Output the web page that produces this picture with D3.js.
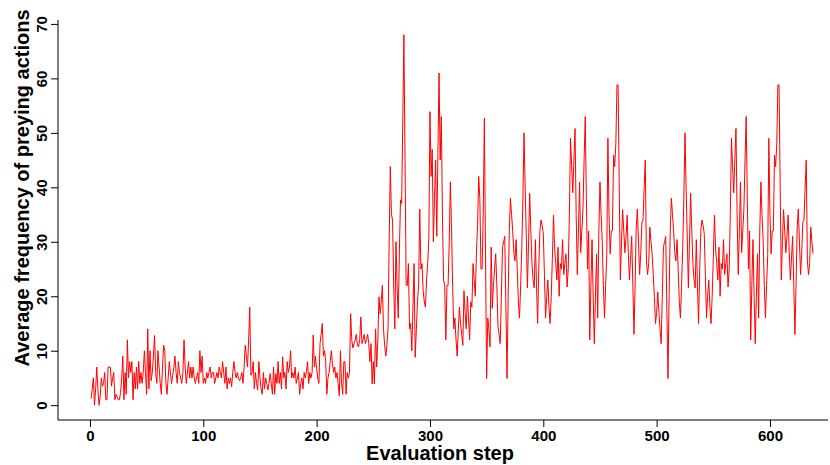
<!DOCTYPE html>
<html>
<head>
<meta charset="utf-8">
<script src="https://cdn.jsdelivr.net/npm/d3@7"></script>
<style>
  body { margin: 0; background: #fff; }
  svg text { font-family: "Liberation Sans", Arial, sans-serif; font-weight: bold; fill: #000; }
</style>
</head>
<body>
<div id="chart"></div>
<script>
// average frequency of preying actions, one value per evaluation step (1..638)
const frequency = [
  // steps 1-53
  1.2, 3, 5, 0, 3, 7, 3, 0, 1.5, 5, 3.5, 4, 6, 1, 1, 7, 7, 7, 3.5, 5,
  6, 1, 2, 1.5, 1, 1, 2.3, 5, 9, 1, 6, 2, 12, 5, 8, 6, 8, 1, 6, 3,
  7, 3, 8, 4, 6, 4, 6, 10, 6, 2, 14, 3, 10,
  // steps 54-108
  4.5, 6, 9, 12.8, 6, 4, 10, 7, 4, 2, 7, 11, 10, 4, 2, 5, 8, 6, 4, 5.5,
  7, 9, 6, 4, 8, 6, 5, 4, 6, 12, 7, 4, 6, 8, 5, 7, 5, 7, 5, 4,
  5, 6, 4, 10, 6, 9, 4, 5, 4, 6, 5, 6, 7, 5, 6,
  // steps 109-166
  6, 4, 5, 6, 5, 7, 6, 5, 8, 6, 4, 7, 3, 5, 4, 5, 3.4, 6, 8, 6,
  5, 6, 5, 4.5, 5, 6, 4, 7, 11, 9, 7, 12, 18, 5.5, 6, 8, 3, 6, 4, 2.8,
  8, 5, 3, 2, 6, 3, 5, 4, 2.8, 4, 5.8, 4, 2, 7, 2, 5.8, 4, 8,
  // steps 167-222
  4, 6, 3, 8.9, 5, 6, 3, 8, 6, 7, 10, 5, 6, 5, 7, 4, 5, 6, 2, 4,
  5, 3, 6, 5, 6.2, 8, 4, 6, 5, 6, 12.9, 7, 9, 6.7, 5, 4, 11.3, 13, 15, 9,
  10, 8, 2, 5, 6, 8, 10, 7.6, 6, 7, 5, 6, 4, 1.7, 10, 4,
  // steps 223-279
  2, 8, 8, 2, 6, 5, 6, 16.8, 12, 10.5, 11.3, 12, 13, 11, 10.7, 12, 16.2, 11.3, 12, 13,
  11.3, 12, 13, 11.3, 8, 11.3, 3.9, 8, 3.9, 14, 7, 12, 19.9, 16.8, 19, 22, 14, 11, 9, 11,
  14, 30, 43.8, 35, 34, 22, 14, 30, 22, 16, 28, 37.7, 37, 52, 68, 45, 22,
  // steps 280-335
  22, 26, 14, 15, 10, 18, 26, 8.8, 14, 19, 22, 36, 25, 26, 21, 19, 18, 23, 26, 30.6,
  53.9, 42, 47, 30, 38, 45, 31, 46, 61, 45, 53, 35, 23, 22, 12, 22, 22, 30, 41, 32.7,
  22, 14, 16, 12, 9, 14, 18, 15, 13, 11, 21, 17, 14, 20, 16, 12,
  // steps 336-392
  19, 18, 26, 23, 20, 28, 33, 42, 38, 25, 25, 35, 52.7, 28, 4.9, 16, 14, 10.7, 29, 17.8,
  22, 25, 27.8, 22, 14.5, 13, 11.3, 20, 29, 30, 31, 18, 4.9, 20, 32, 38, 35, 32, 28, 26.5,
  30.4, 25, 19, 16, 22, 28.7, 38, 50, 40, 31, 21.5, 30, 38.9, 32, 26, 23, 21.5,
  // steps 393-449
  30.4, 22, 15, 25, 32.1, 34, 33, 31.5, 24, 16, 20, 23, 18, 15, 20, 27, 34.9, 28.7, 26, 23,
  29, 20, 26, 25, 30.4, 24, 26, 27.8, 21.7, 25, 35, 49, 44, 39, 45, 50.8, 35, 24, 32, 41,
  28, 32, 36, 45, 53, 38, 25, 32, 12, 22, 30.4, 20, 11.3, 20, 27.8, 16, 31.8,
  // steps 450-504
  41, 35, 30, 22, 16, 22, 27.5, 49, 35, 27.8, 32, 32, 45.9, 43.8, 48, 58.8, 58.8, 40, 23, 30,
  35.9, 32, 28, 31, 34.9, 28, 23, 27, 31, 22, 13, 22, 32.7, 36, 30, 24, 28, 33.6, 34, 40,
  45, 26.5, 24, 26, 32.7, 30, 27.8, 24, 20, 15, 17, 20.8, 17, 14, 11.3,
  // steps 505-534
  20, 29, 30, 31, 18, 4.9, 20, 32, 38, 35, 32, 28, 26.5, 30.4, 25, 19, 16, 22, 28.7, 38,
  50, 40, 31, 21.5, 30, 38.9, 32, 26, 23, 21.5,
  // steps 535-591
  30.4, 22, 15, 25, 32.1, 34, 33, 31.5, 24, 16, 20, 23, 18, 15, 20, 27, 34.9, 28.7, 26, 23,
  29, 20, 26, 25, 30.4, 24, 26, 27.8, 21.7, 25, 35, 49, 44, 39, 45, 50.8, 35, 24, 32, 41,
  28, 32, 36, 45, 53, 38, 25, 32, 12, 22, 30.4, 20, 11.3, 20, 27.8, 16, 31.8,
  // steps 592-638
  41, 35, 30, 22, 16, 22, 27.5, 49, 35, 27.8, 32, 32, 45.9, 43.8, 48, 58.8, 58.8, 40, 23, 30,
  35.9, 32, 28, 31, 34.9, 28, 23, 27, 31, 22, 13, 22, 32.7, 36, 30, 24, 28, 33.6, 34, 40,
  45, 26.5, 24, 26, 32.7, 30, 27.8
];

const xTicks = [0, 100, 200, 300, 400, 500, 600];
const yTicks = [0, 10, 20, 30, 40, 50, 60, 70];
const xTitle = 'Evaluation step';
const yTitle = 'Average frequency of preying actions';

const width = 830;
const height = 465;
const plotLeft = 58, plotRight = 828, plotTop = 20, plotBottom = 420;

const svg = d3.select('#chart')
    .append('svg')
    .attr('width', width)
    .attr('height', height);

const x = d3.scaleLinear()
    .domain([-28.2, 651.2])
    .range([plotLeft, plotRight]);

const y = d3.scaleLinear()
    .domain([-2.72, 70.72])
    .range([plotBottom, plotTop]);

const points = frequency.map((v, i) => ({ step: i + 1, value: v }));

// x axis
const xAxis = svg.append('g')
    .attr('transform', `translate(0,${plotBottom})`)
    .call(d3.axisBottom(x).tickValues(xTicks).tickSize(7).tickPadding(3));
xAxis.select('.domain').remove();
xAxis.selectAll('text').style('font-size', '15px');

// y axis, labels turned like base R
const yAxis = svg.append('g')
    .attr('transform', `translate(${plotLeft},0)`)
    .call(d3.axisLeft(y).tickValues(yTicks).tickSize(7));
yAxis.select('.domain').remove();
yAxis.selectAll('text')
    .style('font-size', '15px')
    .attr('x', null)
    .attr('dy', null)
    .attr('text-anchor', 'middle')
    .attr('transform', 'translate(-11,0) rotate(-90)');

svg.selectAll('.tick line').attr('stroke', '#000');

// L shaped frame
svg.append('path')
    .attr('d', `M${plotLeft},${plotTop}V${plotBottom}H${plotRight}`)
    .attr('fill', 'none')
    .attr('stroke', '#000')
    .attr('stroke-width', 1);

const line = d3.line()
    .x(d => x(d.step))
    .y(d => y(d.value));

svg.append('path')
    .datum(points)
    .attr('d', line)
    .attr('fill', 'none')
    .attr('stroke', '#ff0000')
    .attr('stroke-width', 1);

svg.append('text')
    .attr('x', 440)
    .attr('y', 460)
    .attr('text-anchor', 'middle')
    .style('font-size', '20px')
    .text(xTitle);

svg.append('text')
    .attr('transform', 'translate(29,188) rotate(-90)')
    .attr('text-anchor', 'middle')
    .style('font-size', '20px')
    .text(yTitle);
</script>
</body>
</html>
